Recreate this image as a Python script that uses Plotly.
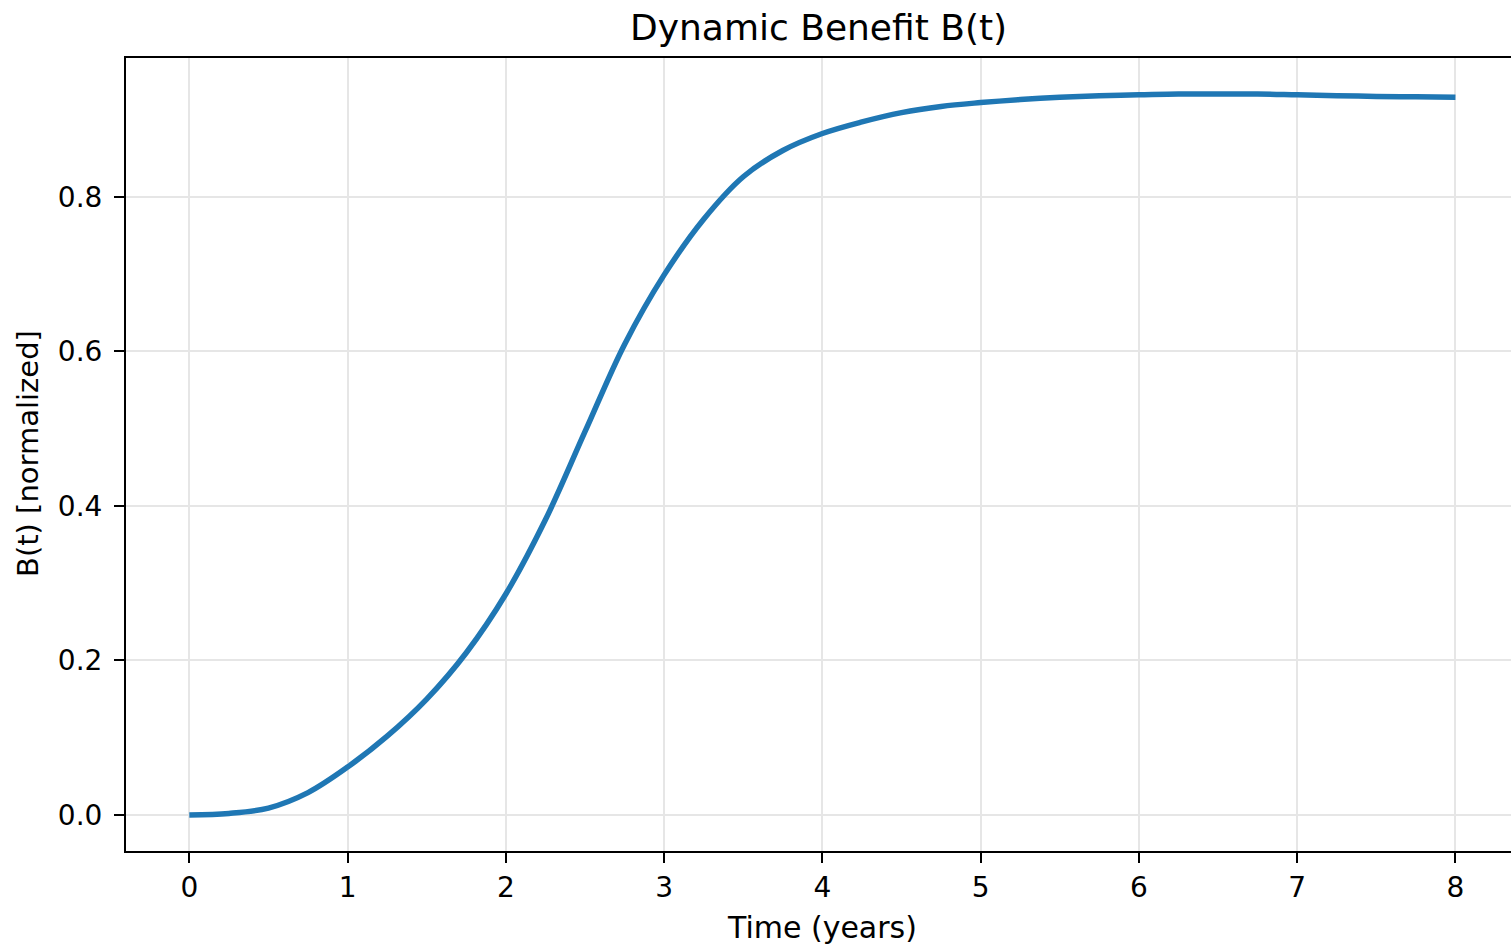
import plotly.graph_objects as go

# Data
t_years = [0, 0.25, 0.5, 0.75, 1.0, 1.25, 1.5, 1.75, 2.0, 2.25, 2.5, 2.75, 3.0,
           3.25, 3.5, 3.75, 4.0, 4.25, 4.5, 4.75, 5.0, 5.25, 5.5, 5.75, 6.0,
           6.25, 6.5, 6.75, 7.0, 7.25, 7.5, 7.75, 8.0]
benefit = [0.0, 0.002, 0.009, 0.029, 0.062, 0.102, 0.150, 0.210, 0.286, 0.382,
           0.496, 0.609, 0.699, 0.771, 0.826, 0.860, 0.882, 0.897, 0.909, 0.917,
           0.922, 0.926, 0.929, 0.931, 0.932, 0.933, 0.933, 0.933, 0.932, 0.931,
           0.930, 0.9295, 0.929]
x_ticks = [0, 1, 2, 3, 4, 5, 6, 7, 8]
y_ticks = [0.0, 0.2, 0.4, 0.6, 0.8]

FONT = "DejaVu Sans"

fig = go.Figure()
fig.add_trace(go.Scatter(
    x=t_years, y=benefit, mode="lines",
    line=dict(color="#1f77b4", width=5.5, shape="spline", smoothing=1.0),
    showlegend=False, hoverinfo="skip",
))

axis_common = dict(
    showgrid=True, gridcolor="#e6e6e6", gridwidth=2,
    zeroline=False, showline=True, linecolor="black", linewidth=2,
    ticks="outside", ticklen=10, tickwidth=2, tickcolor="black",
    tickfont=dict(family=FONT, size=28, color="black"),
)

fig.update_layout(
    width=1511, height=947,
    margin=dict(l=126, r=0, t=58, b=96),
    paper_bgcolor="white", plot_bgcolor="white",
    xaxis=dict(range=[-0.4, 8.351], tickvals=x_ticks, mirror=True,
               ticklabelstandoff=0, **axis_common),
    yaxis=dict(range=[-0.0466, 0.9797], tickvals=y_ticks, tickformat=".1f",
               ticklabelstandoff=6, **axis_common),
    annotations=[
        dict(text="Dynamic Benefit B(t)", x=0.5, xref="paper", xanchor="center",
             y=27, yref="paper", showarrow=False,
             font=dict(family=FONT, size=36, color="black")),
        dict(text="Time (years)", x=4.0, xref="x", xanchor="center",
             y=0, yref="paper", showarrow=False,
             font=dict(family=FONT, size=30, color="black")),
        dict(text="B(t) [normalized]", x=0, xref="paper", textangle=-90,
             y=0.5, yref="paper", showarrow=False,
             font=dict(family=FONT, size=29, color="black")),
    ],
)

# position annotations in pixel terms
H_plot = 947 - 58 - 96
W_plot = 1511 - 126
ann = list(fig.layout.annotations)
ann[0].update(y=1 + (58 - 27) / H_plot, yanchor="middle")
ann[1].update(y=-(927 - 851) / H_plot, yanchor="middle")
ann[2].update(x=-(126 - 28) / W_plot, xanchor="center", y=(851 - 453) / H_plot, yanchor="middle")
fig.layout.annotations = ann

fig.write_html("out.html")
